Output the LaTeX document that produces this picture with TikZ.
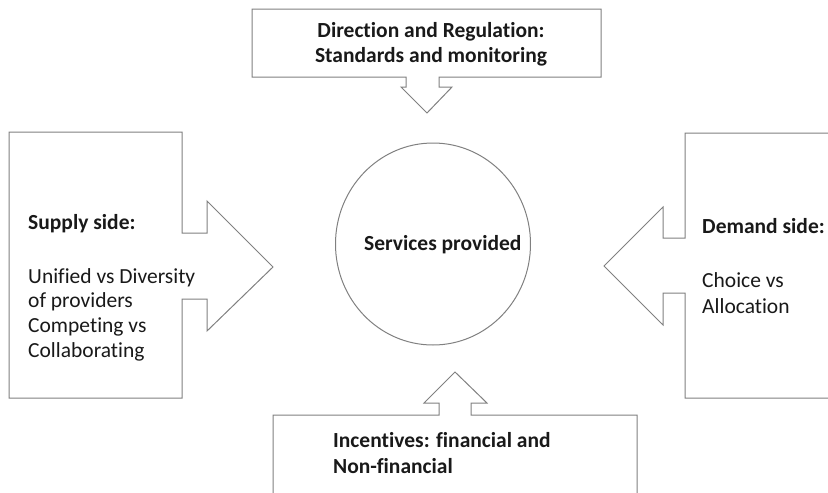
\documentclass[tikz,border=0pt]{standalone}
\usepackage{fontspec}
\usetikzlibrary{shapes.geometric}
\setmainfont[RawFeature=-liga]{Carlito}
\begin{document}
\begin{tikzpicture}[x=1pt,y=-1pt,
  shapeline/.style={draw=black!50,line width=1pt,line join=miter},
  txt/.style={inner sep=0pt,font=\fontsize{21.5}{25}\selectfont,text=black!90},
  btxt/.style={txt,font=\fontsize{21.5}{25}\selectfont\bfseries}]
\useasboundingbox (0,0) rectangle (828,493);
\clip (0,0) rectangle (828,493);
% top box with down arrow
\draw[shapeline] (252,9) -- (601,9) -- (601,77) -- (439,77) -- (439,87) -- (452,87)
  -- (427,113) -- (401,87) -- (406,87) -- (406,77) -- (252,77) -- cycle;
% left box with right arrow
\draw[shapeline] (9,132) -- (182,132) -- (182,233) -- (207,233) -- (207,201)
  -- (273,267) -- (207,331) -- (207,299) -- (182,299) -- (182,398) -- (9,398) -- cycle;
% right box with left arrow
\draw[shapeline] (840,133) -- (685,133) -- (685,238) -- (663,238) -- (663,207)
  -- (604,266) -- (663,325) -- (663,293) -- (685,293) -- (685,398) -- (840,398);
% bottom box with up arrow
\draw[shapeline] (273,505) -- (273,415) -- (439,415) -- (439,403) -- (424,403)
  -- (455,372) -- (487,403) -- (471,403) -- (471,415) -- (637,415) -- (637,505);
% centre circle
\node[shapeline,ellipse,minimum width=195pt,minimum height=202pt,inner sep=0pt] (svc) at (433,244) {};
\node[btxt,anchor=base west] (svct) at (364,250) {Services provided};
% top texts
\node[btxt,anchor=base] (dir1) at (431,37) {Direction and Regulation:};
\node[btxt,anchor=base] (dir2) at (431,62) {Standards and monitoring};
% left texts
\node[btxt,anchor=base west] (sup0) at (28,229) {Supply side:};
\node[txt,anchor=base west] (sup1) at (28,283) {Unified vs Diversity};
\node[txt,anchor=base west] (sup2) at (28,307) {of providers};
\node[txt,anchor=base west] (sup3) at (28,332) {Competing vs};
\node[txt,anchor=base west] (sup4) at (28,357) {Collaborating};
% right texts
\node[btxt,anchor=base west] (dem0) at (702,233) {Demand side:};
\node[txt,anchor=base west] (dem1) at (702,287) {Choice vs};
\node[txt,anchor=base west] (dem2) at (702,313) {Allocation};
% bottom texts
\node[btxt,anchor=base west] (inc1) at (333,447) {Incentives: financial and};
\node[btxt,anchor=base west] (inc2) at (333,473) {Non-financial};
\end{tikzpicture}
\end{document}
